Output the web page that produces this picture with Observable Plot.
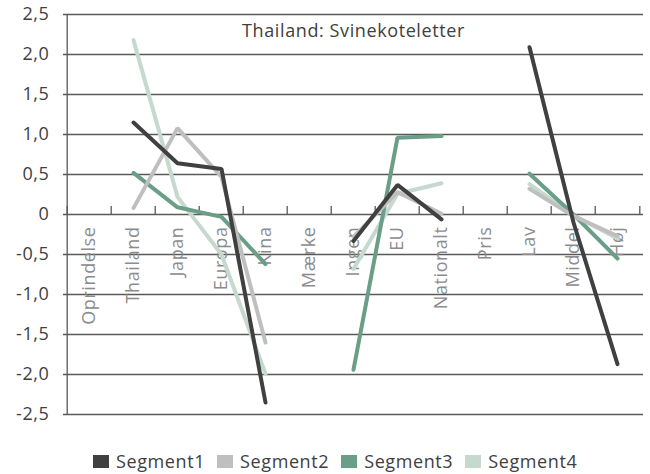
<!DOCTYPE html>
<html>
<head>
<meta charset="utf-8">
<script src="https://cdn.jsdelivr.net/npm/d3@7"></script>
<script src="https://cdn.jsdelivr.net/npm/@observablehq/plot@0.6"></script>
<style>
  html, body { margin: 0; padding: 0; background: #fff; }
  body { width: 650px; height: 474px; overflow: hidden; font-family: "Open Sans", sans-serif; }
  #chart svg text { letter-spacing: 0.6px; }
  #legend { display: flex; align-items: center; padding-left: 93px; margin-top: 13px; font-size: 18px; line-height: 24px; color: #404040; letter-spacing: 0.6px; white-space: nowrap; }
  #legend .item { display: flex; align-items: center; margin-right: 12px; }
  #legend .sw { width: 16px; height: 13px; margin-right: 7px; }
</style>
</head>
<body>
<div id="chart"></div>
<div id="legend"></div>
<script>
const title = "Thailand: Svinekoteletter";
const categories = ["Oprindelse", "Thailand", "Japan", "Europa", "Kina", "Mærke", "Ingen", "EU", "Nationalt", "Pris", "Lav", "Middel", "Høj"];
const seriesNames = ["Segment1", "Segment2", "Segment3", "Segment4"];
const seriesColors = ["#404040", "#bfbfbf", "#6a9e86", "#c5d9ce"];
// null = no value (heading categories), breaks the line
const segment1 = [null, 1.15, 0.64, 0.57, -2.35, null, -0.33, 0.37, -0.06, null, 2.09, -0.10, -1.87];
const segment2 = [null, 0.08, 1.08, 0.47, -1.60, null, -0.28, 0.28, 0.01, null, 0.32, -0.02, -0.27];
const segment3 = [null, 0.52, 0.09, -0.03, -0.62, null, -1.94, 0.96, 0.98, null, 0.51, 0.00, -0.55];
const segment4 = [null, 2.18, 0.22, -0.50, -1.99, null, -0.68, 0.26, 0.39, null, 0.38, -0.01, -0.30];
const yTicks = [-2.5, -2, -1.5, -1, -0.5, 0, 0.5, 1, 1.5, 2, 2.5];

const seriesValues = [segment1, segment2, segment3, segment4];
// draw Segment4 first so Segment1 ends on top
const data = [];
for (let s = seriesValues.length - 1; s >= 0; s--) {
  categories.forEach((c, i) => {
    const v = seriesValues[s][i];
    data.push({cat: c, value: v == null ? NaN : v, series: seriesNames[s]});
  });
}

const W = 650, H = 436, mL = 63, mR = 7, mT = 14, mB = 22;
const step = (W - mL - mR) / categories.length;
const grid = "#595959";

const fmt = d => d === 0 ? "0" : d.toFixed(1).replace(".", ",");

const chart = Plot.plot({
  width: W,
  height: H,
  marginLeft: mL,
  marginRight: mR,
  marginTop: mT,
  marginBottom: mB,
  style: {fontFamily: "'Open Sans', sans-serif", fontSize: "18px", color: "#404040", background: "#fff"},
  x: {type: "point", domain: categories, padding: 0.5, axis: null},
  y: {domain: [-2.5, 2.5], ticks: yTicks, tickFormat: fmt, tickSize: 0, tickPadding: 14, label: null},
  color: {domain: seriesNames, range: seriesColors},
  marks: [
    Plot.ruleY(yTicks, {stroke: grid, strokeWidth: 1.3}),
    Plot.ruleX([categories[0]], {dx: -step / 2, stroke: grid, strokeWidth: 1.3}),
    Plot.ruleX(categories, {x: d => d, y1: 0, y2: 0.1, dx: -step / 2, stroke: grid, strokeWidth: 1.3}),
    Plot.ruleX([categories[categories.length - 1]], {x: d => d, y1: 0, y2: 0.1, dx: step / 2, stroke: grid, strokeWidth: 1.3}),
    Plot.text(categories, {x: d => d, y: () => 0, text: d => d, rotate: -90, textAnchor: "end", dy: 12, fill: "#8c8c8c", fontSize: 18}),
    Plot.line(data, {x: "cat", y: "value", z: "series", stroke: "series", strokeWidth: 4, strokeLinecap: "round", strokeLinejoin: "miter"}),
    Plot.text([title], {frameAnchor: "top", dy: 10, lineAnchor: "top", fill: "#404040", fontSize: 18})
  ]
});
document.getElementById("chart").appendChild(chart);

const legend = document.getElementById("legend");
seriesNames.forEach((n, i) => {
  const item = document.createElement("div");
  item.className = "item";
  const sw = document.createElement("span");
  sw.className = "sw";
  sw.style.background = seriesColors[i];
  const t = document.createElement("span");
  t.textContent = n;
  item.appendChild(sw);
  item.appendChild(t);
  legend.appendChild(item);
});
</script>
</body>
</html>
